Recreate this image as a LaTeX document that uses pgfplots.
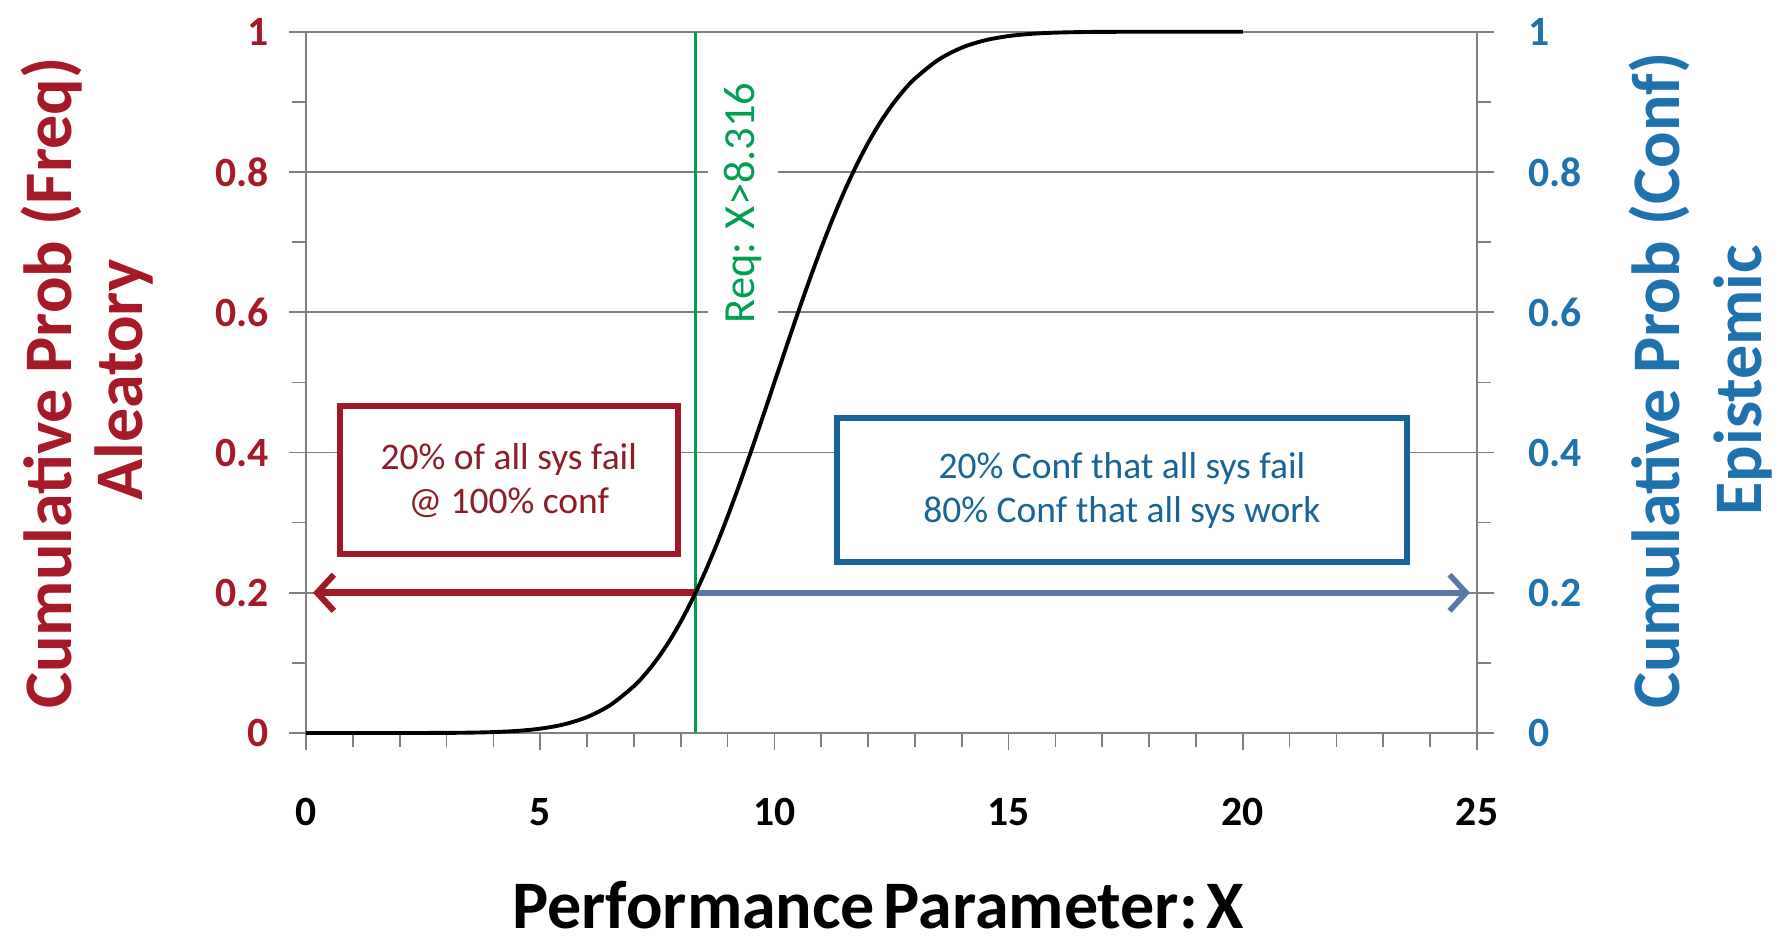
\documentclass[border=0pt]{standalone}
\usepackage{pgfplots}
\pgfplotsset{compat=1.18}
\usepackage{pgfplotstable}
\usepackage{fontspec}
\setmainfont{Carlito}
\usetikzlibrary{arrows.meta}

\definecolor{alered}{RGB}{165,25,40}
\definecolor{boxred}{RGB}{160,25,40}
\definecolor{boxtext}{RGB}{140,30,40}
\definecolor{epiblue}{RGB}{30,115,175}
\definecolor{boxblue}{RGB}{25,100,150}
\definecolor{arrowblue}{RGB}{90,120,165}
\definecolor{reqgreen}{RGB}{0,160,80}
\definecolor{gridgray}{RGB}{128,128,128}

% cumulative probability of the performance parameter
\pgfplotstableread{
x      p
0      0
1      0.0000034
2      0.0000317
3      0.000233
3.5    0.000577
4      0.00135
4.5    0.00298
5      0.00621
5.5    0.01222
6      0.02275
6.5    0.04006
7      0.06681
7.25   0.08457
7.5    0.10565
7.75   0.13029
8      0.15866
8.25   0.19079
8.5    0.22663
8.75   0.26599
9      0.30854
9.25   0.35383
9.5    0.40129
9.75   0.45026
10     0.5
10.25  0.54974
10.5   0.59871
10.75  0.64617
11     0.69146
11.25  0.73401
11.5   0.77337
11.75  0.80921
12     0.84134
12.25  0.86971
12.5   0.89435
12.75  0.91543
13     0.93319
13.5   0.95994
14     0.97725
14.5   0.98778
15     0.99379
15.5   0.99702
16     0.99865
16.5   0.99942
17     0.99977
18     0.99997
19     1.0
20     1.0
}\cdftable

\pgfplotsset{
  common/.style={
    scale only axis, width=421.6pt, height=252.5pt,
    xmin=0, xmax=25, ymin=0, ymax=1,
    ytick={0,0.2,0.4,0.6,0.8,1}, minor y tick num=1,
    tick align=outside,
    major tick length=6pt, minor tick length=5pt,
    tick style={gridgray, line width=0.6pt},
    axis line style={gridgray, line width=0.6pt},
    /pgf/number format/assume math mode=true,
    clip=false,
  },
}

\begin{document}
\begin{tikzpicture}
\begin{axis}[
  common,
  axis x line*=bottom, axis y line*=left,
  xtick={0,5,...,25}, minor x tick num=4,
  ymajorgrids, grid style={gridgray, line width=0.6pt},
  xticklabel style={font=\fontsize{15}{18}\selectfont\bfseries, text=black},
  xticklabel shift=14pt,
  yticklabel style={font=\fontsize{15}{18}\selectfont\bfseries, text=alered},
  yticklabel shift=4pt,
]
  % bounding box of the whole picture
  \coordinate (bl) at (rel axis cs:-0.2613,-0.302);
  \coordinate (tr) at (rel axis cs:1.2579,1.0452);

  % annotation boxes
  \draw[boxred, line width=2pt, fill=white] (axis cs:0.726,0.255) rectangle (axis cs:7.94,0.466);
  \node[align=center, text=boxtext, font=\fontsize{13.5}{16}\selectfont] at (axis cs:4.33,0.36)
    {20\% of all sys fail\\@ 100\% conf};
  \draw[boxblue, line width=2pt, fill=white] (axis cs:11.34,0.244) rectangle (axis cs:23.5,0.449);
  \node[align=center, text=boxblue, font=\fontsize{13.5}{16}\selectfont] at (axis cs:17.42,0.346)
    {20\% Conf that all sys fail\\80\% Conf that all sys work};

  % requirement label
  \node[rotate=90, fill=white, inner xsep=3pt, inner ysep=6pt, text=reqgreen,
        font=\fontsize{16}{19}\selectfont] at (axis cs:9.33,0.756) {Req: X>8.316};

  % arrows
  \addplot[boxred, line width=2.5pt, -{Straight Barb[length=6pt, width=13pt, line width=2.2pt]}]
    coordinates {(8.316,0.2) (0.15,0.2)};
  \addplot[arrowblue, line width=2.1pt, -{Straight Barb[length=6pt, width=13pt, line width=2pt]}]
    coordinates {(8.316,0.2) (24.85,0.2)};

  % requirement line
  \addplot[reqgreen, line width=1.1pt] coordinates {(8.316,0) (8.316,1)};

  % CDF curve
  \addplot[black, line width=1.4pt, smooth] table[x=x, y=p] {\cdftable};

  % axis titles
  \node[rotate=90, text=alered, font=\fontsize{24.5}{29}\selectfont\bfseries]
    at (rel axis cs:-0.2175,0.499) {Cumulative Prob (Freq)};
  \node[rotate=90, text=alered, font=\fontsize{24.5}{29}\selectfont\bfseries]
    at (rel axis cs:-0.1555,0.503) {Aleatory};
  \node[rotate=90, align=center, text=epiblue, font=\fontsize{24.5}{29.5}\selectfont\bfseries]
    at (rel axis cs:1.191,0.503) {Cumulative Prob (Conf)\\Epistemic};
  \node[font=\fontsize{24.5}{29}\selectfont\bfseries] at (rel axis cs:0.4885,-0.246)
    {Performance\hspace{0.13em}Parameter:\hspace{0.12em}X};
\end{axis}
\begin{axis}[
  common,
  axis x line=none, axis y line*=right,
  yticklabel style={font=\fontsize{15}{18}\selectfont\bfseries, text=epiblue},
  yticklabel shift=9pt,
]
  \addplot[draw=none] coordinates {(0,0) (25,1)};
\end{axis}
\pgfresetboundingbox
\path[use as bounding box] (bl) rectangle (tr);
\end{tikzpicture}
\end{document}
